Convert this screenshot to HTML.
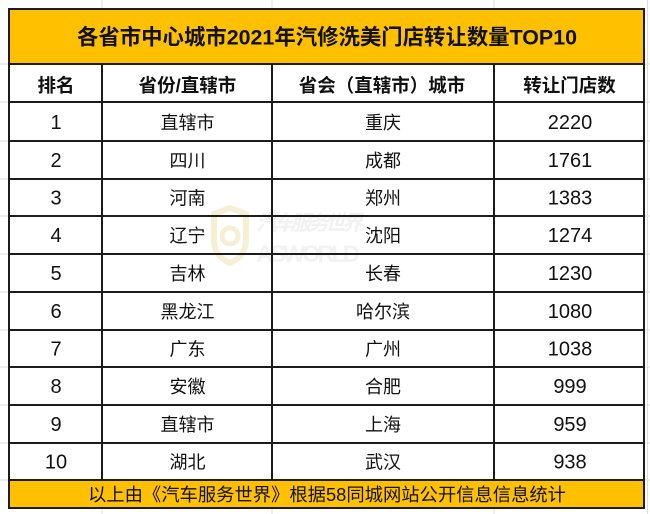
<!DOCTYPE html>
<html>
<head>
<meta charset="utf-8">
<style>
html,body{margin:0;padding:0;background:#fff;}
svg{display:block;}
text{font-family:"Liberation Sans","Noto Sans CJK SC",sans-serif;fill:#111;}
.t{font-size:21.5px;font-weight:bold;}
.h{font-size:18.5px;font-weight:bold;}
.c{font-size:18px;}
.n{font-size:20px;}
.f{font-size:18.3px;}
</style>
</head>
<body>
<svg width="650" height="514" viewBox="0 0 650 514" xmlns="http://www.w3.org/2000/svg">
  <rect x="0" y="0" width="650" height="514" fill="#fff"/>
  <!-- outside gridlines -->
  <g stroke="#dcdcdc" stroke-width="1">
    <line x1="102" y1="0" x2="102" y2="8"/>
    <line x1="272" y1="0" x2="272" y2="8"/>
    <line x1="494" y1="0" x2="494" y2="8"/>
    <line x1="102" y1="509" x2="102" y2="514"/>
    <line x1="272" y1="509" x2="272" y2="514"/>
    <line x1="494" y1="509" x2="494" y2="514"/>
    <line x1="647.5" y1="0" x2="647.5" y2="514"/>
    <line x1="0" y1="64" x2="8" y2="64"/>
    <line x1="0" y1="102" x2="8" y2="102"/>
    <line x1="0" y1="141" x2="8" y2="141"/>
    <line x1="0" y1="179" x2="8" y2="179"/>
    <line x1="0" y1="216" x2="8" y2="216"/>
    <line x1="0" y1="254" x2="8" y2="254"/>
    <line x1="0" y1="292" x2="8" y2="292"/>
    <line x1="0" y1="330" x2="8" y2="330"/>
    <line x1="0" y1="367" x2="8" y2="367"/>
    <line x1="0" y1="405" x2="8" y2="405"/>
    <line x1="0" y1="443" x2="8" y2="443"/>
    <line x1="0" y1="480" x2="8" y2="480"/>
    <line x1="645" y1="64" x2="650" y2="64"/>
    <line x1="645" y1="102" x2="650" y2="102"/>
    <line x1="645" y1="141" x2="650" y2="141"/>
    <line x1="645" y1="179" x2="650" y2="179"/>
    <line x1="645" y1="216" x2="650" y2="216"/>
    <line x1="645" y1="254" x2="650" y2="254"/>
    <line x1="645" y1="292" x2="650" y2="292"/>
    <line x1="645" y1="330" x2="650" y2="330"/>
    <line x1="645" y1="367" x2="650" y2="367"/>
    <line x1="645" y1="405" x2="650" y2="405"/>
    <line x1="645" y1="443" x2="650" y2="443"/>
    <line x1="645" y1="480" x2="650" y2="480"/>
  </g>
  <!-- backgrounds -->
  <rect x="8" y="8" width="637" height="56" fill="#FFC000"/>
  <rect x="8" y="480" width="637" height="29" fill="#FFC000"/>

  <!-- watermark -->
  <g opacity="0.55">
    <path d="M230 208 L246 214 L246 240 Q246 256 230 263 Q214 256 214 240 L214 214 Z" fill="none" stroke="#f2e2b0" stroke-width="6"/>
    <circle cx="230" cy="236" r="8" fill="none" stroke="#f2e2b0" stroke-width="5"/>
    <text x="256" y="230" style="font-size:21px;font-weight:bold;font-style:italic;fill:#e6e6e6;" textLength="107">汽车服务世界</text>
    <text x="256" y="262" style="font-size:24px;font-weight:bold;fill:#e9e9e9;" textLength="104">ASWORLD</text>
  </g>

  <!-- borders -->
  <g stroke="#1c1c1c" stroke-width="2" fill="none">
    <rect x="9" y="9" width="635" height="499"/>
    <line x1="8" y1="64" x2="645" y2="64"/>
    <line x1="8" y1="102" x2="645" y2="102"/>
    <line x1="8" y1="141" x2="645" y2="141"/>
    <line x1="8" y1="179" x2="645" y2="179"/>
    <line x1="8" y1="216" x2="645" y2="216"/>
    <line x1="8" y1="254" x2="645" y2="254"/>
    <line x1="8" y1="292" x2="645" y2="292"/>
    <line x1="8" y1="330" x2="645" y2="330"/>
    <line x1="8" y1="367" x2="645" y2="367"/>
    <line x1="8" y1="405" x2="645" y2="405"/>
    <line x1="8" y1="443" x2="645" y2="443"/>
    <line x1="8" y1="480" x2="645" y2="480"/>
    <line x1="102" y1="64" x2="102" y2="480"/>
    <line x1="272" y1="64" x2="272" y2="480"/>
    <line x1="494" y1="64" x2="494" y2="480"/>
  </g>

  <!-- title -->
  <text class="t" x="327" y="44.5" text-anchor="middle" textLength="500" lengthAdjust="spacingAndGlyphs">各省市中心城市2021年汽修洗美门店转让数量TOP10</text>

  <!-- header -->
  <g class="h" text-anchor="middle">
    <text x="56" y="92">排名</text>
    <text x="187.5" y="92">省份/直辖市</text>
    <text x="382" y="92">省会（直辖市）城市</text>
    <text x="569.5" y="92">转让门店数</text>
  </g>

  <!-- rows -->
  <g text-anchor="middle">
    <text class="n" x="56" y="129">1</text>
    <text class="c" x="187.5" y="129">直辖市</text>
    <text class="c" x="383" y="129">重庆</text>
    <text class="n" x="570" y="129">2220</text>

    <text class="n" x="56" y="167">2</text>
    <text class="c" x="187.5" y="167">四川</text>
    <text class="c" x="383" y="167">成都</text>
    <text class="n" x="570" y="167">1761</text>

    <text class="n" x="56" y="204.5">3</text>
    <text class="c" x="187.5" y="204.5">河南</text>
    <text class="c" x="383" y="204.5">郑州</text>
    <text class="n" x="570" y="204.5">1383</text>

    <text class="n" x="56" y="242">4</text>
    <text class="c" x="187.5" y="242">辽宁</text>
    <text class="c" x="383" y="242">沈阳</text>
    <text class="n" x="570" y="242">1274</text>

    <text class="n" x="56" y="280">5</text>
    <text class="c" x="187.5" y="280">吉林</text>
    <text class="c" x="383" y="280">长春</text>
    <text class="n" x="570" y="280">1230</text>

    <text class="n" x="56" y="318">6</text>
    <text class="c" x="187.5" y="318">黑龙江</text>
    <text class="c" x="383" y="318">哈尔滨</text>
    <text class="n" x="570" y="318">1080</text>

    <text class="n" x="56" y="355.5">7</text>
    <text class="c" x="187.5" y="355.5">广东</text>
    <text class="c" x="383" y="355.5">广州</text>
    <text class="n" x="570" y="355.5">1038</text>

    <text class="n" x="56" y="393">8</text>
    <text class="c" x="187.5" y="393">安徽</text>
    <text class="c" x="383" y="393">合肥</text>
    <text class="n" x="570" y="393">999</text>

    <text class="n" x="56" y="431">9</text>
    <text class="c" x="187.5" y="431">直辖市</text>
    <text class="c" x="383" y="431">上海</text>
    <text class="n" x="570" y="431">959</text>

    <text class="n" x="56" y="468.5">10</text>
    <text class="c" x="187.5" y="468.5">湖北</text>
    <text class="c" x="383" y="468.5">武汉</text>
    <text class="n" x="570" y="468.5">938</text>
  </g>

  <!-- footer -->
  <text class="f" x="327" y="501" text-anchor="middle" textLength="478" lengthAdjust="spacingAndGlyphs">以上由《汽车服务世界》根据58同城网站公开信息信息统计</text>
</svg>
</body>
</html>
